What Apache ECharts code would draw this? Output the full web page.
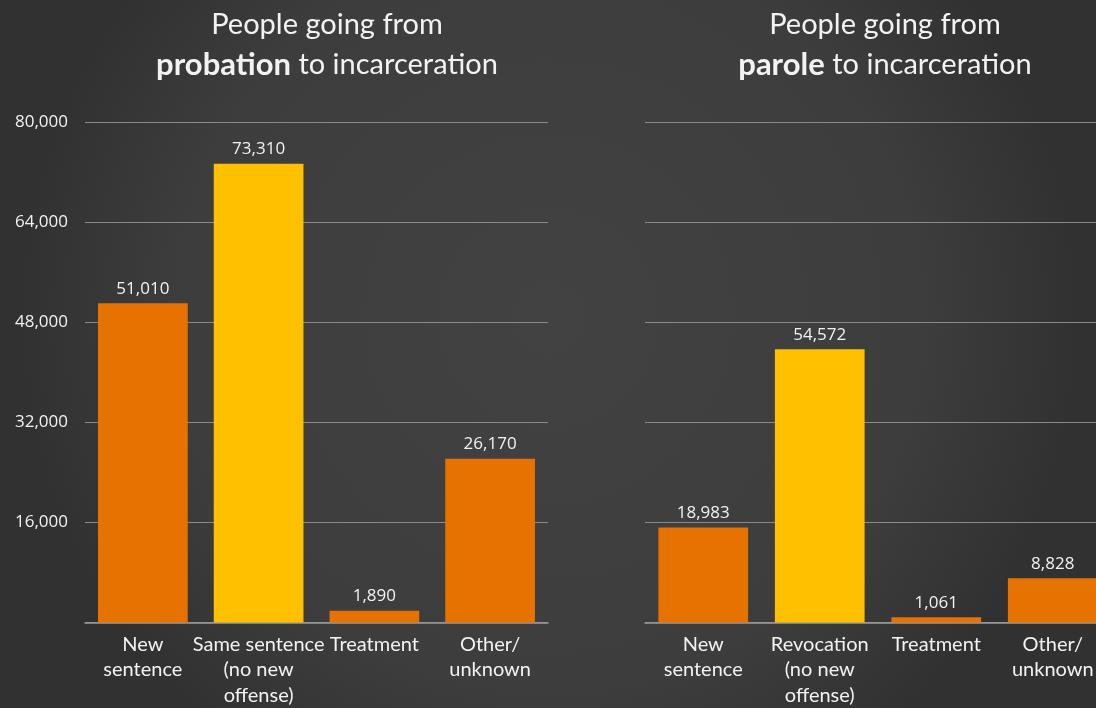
<!DOCTYPE html>
<html>
<head>
<meta charset="utf-8">
<script src="https://cdn.jsdelivr.net/npm/echarts@6/dist/echarts.min.js"></script>
<style>
html,body{margin:0;padding:0;background:#3a3a3a;overflow:hidden;width:1096px;height:708px;}
#chart{width:1120px;height:708px;}
</style>
</head>
<body>
<div id="chart"></div>
<script>
const probationCategories = ['New\nsentence', 'Same sentence\n(no new\noffense)', 'Treatment', 'Other/\nunknown'];
const probationValues = [51010, 73310, 1890, 26170];
const paroleCategories = ['New\nsentence', 'Revocation\n(no new\noffense)', 'Treatment', 'Other/\nunknown'];
const paroleValues = [18983, 54572, 1061, 8828];
const highlightIndex = 1;
const probationTicks = [0, 16000, 32000, 48000, 64000, 80000];

const ORANGE = '#e67300';
const YELLOW = '#ffc000';
const TEXT = '#f2f2f2';
const titleFont = 'Lato, "Open Sans", sans-serif';
const numFont = '"Open Sans", Roboto, sans-serif';

function colored(vals) {
  return vals.map((v, i) => ({ value: v, itemStyle: { color: i === highlightIndex ? YELLOW : ORANGE } }));
}

const titleStyle = {
  color: TEXT, fontFamily: titleFont, fontSize: 29, fontWeight: 'normal', lineHeight: 40,
  rich: {
    n: { color: TEXT, fontFamily: titleFont, fontSize: 29, fontWeight: 'normal', lineHeight: 40 },
    b: { color: TEXT, fontFamily: titleFont, fontSize: 31, fontWeight: 'bold', lineHeight: 40 }
  }
};

const chart = echarts.init(document.getElementById('chart'));
chart.setOption({
  backgroundColor: {
    type: 'radial', x: 0.49, y: 0.45, r: 0.75,
    colorStops: [{ offset: 0, color: '#424242' }, { offset: 0.7, color: '#3d3d3d' }, { offset: 1, color: '#313131' }]
  },
  animation: false,
  title: [
    {
      text: '{n|People going from}\n{b|probation}{n| to incarceration}',
      left: 322, top: 0, textAlign: 'center',
      textStyle: titleStyle
    },
    {
      text: '{n|People going from}\n{b|parole}{n| to incarceration}',
      left: 880, top: 0, textAlign: 'center',
      textStyle: titleStyle
    }
  ],
  grid: [
    { left: 85, top: 122, width: 463, height: 502 },
    { left: 645, top: 122, width: 466, height: 502 }
  ],
  xAxis: [0, 1].map(i => ({
    type: 'category', gridIndex: i,
    data: i === 0 ? probationCategories : paroleCategories,
    axisLine: { lineStyle: { color: '#9a9a9a', width: 1.5 } },
    axisTick: { show: false },
    axisLabel: { interval: 0, color: TEXT, fontFamily: titleFont, fontSize: 20, lineHeight: 25.5, margin: 9 }
  })),
  yAxis: [
    {
      type: 'value', gridIndex: 0, min: probationTicks[0], max: probationTicks[probationTicks.length - 1], interval: 16000,
      axisLine: { show: false }, axisTick: { show: false },
      axisLabel: {
        color: TEXT, fontFamily: numFont, fontSize: 17, margin: 17,
        formatter: v => v === 0 ? '' : v.toLocaleString('en-US')
      },
      splitLine: { lineStyle: { color: '#8a8a8a', width: 1 } }
    },
    {
      type: 'value', gridIndex: 1, min: 0, max: 100000, interval: 20000,
      axisLine: { show: false }, axisTick: { show: false },
      axisLabel: { show: false },
      splitLine: { lineStyle: { color: '#8a8a8a', width: 1 } }
    }
  ],
  series: [
    {
      type: 'bar', xAxisIndex: 0, yAxisIndex: 0, data: colored(probationValues),
      barCategoryGap: '22.5%',
      label: { show: true, position: 'top', distance: 6, color: TEXT, fontFamily: numFont, fontSize: 17,
        formatter: p => p.value.toLocaleString('en-US') }
    },
    {
      type: 'bar', xAxisIndex: 1, yAxisIndex: 1, data: colored(paroleValues),
      barCategoryGap: '23%',
      label: { show: true, position: 'top', distance: 6, color: TEXT, fontFamily: numFont, fontSize: 17,
        formatter: p => p.value.toLocaleString('en-US') }
    }
  ]
});
</script>
</body>
</html>
